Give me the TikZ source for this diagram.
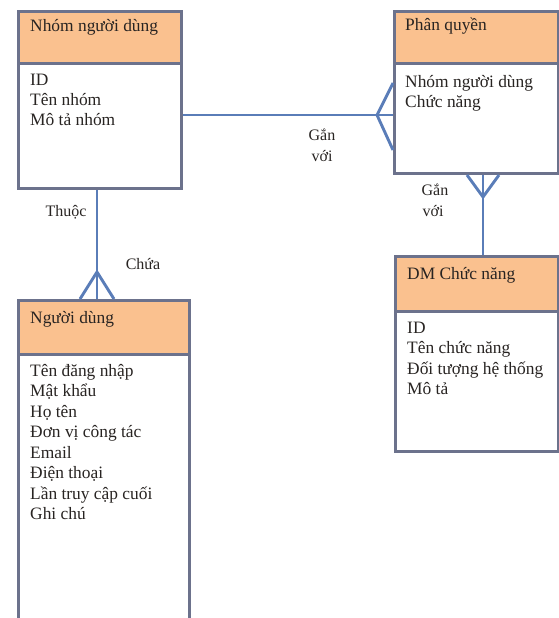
\documentclass[tikz,border=0pt]{standalone}
\usepackage{fontspec}
\setmainfont{Liberation Serif}
\definecolor{hdrfill}{RGB}{250,193,143}
\definecolor{boxline}{RGB}{108,114,140}
\definecolor{linkline}{RGB}{90,125,184}
\definecolor{inkc}{RGB}{40,36,34}
\begin{document}
\begin{tikzpicture}[x=1pt,y=-1pt,
  hdr/.style={draw=boxline, line width=3pt, fill=hdrfill, rectangle, inner sep=0pt, anchor=north west},
  body/.style={draw=boxline, line width=3pt, fill=white, rectangle, inner sep=0pt, anchor=north west},
  txt/.style={anchor=base west, inner sep=0pt, text=inkc, font=\fontsize{17.4}{20.5}\selectfont},
  lbl/.style={anchor=center, inner sep=0pt, text=inkc, font=\fontsize{16}{20}\selectfont},
  link/.style={draw=linkline, line width=2.9pt}]
\useasboundingbox (0,0) rectangle (559,618);
\clip (0,0) rectangle (559,618);

% Nhóm người dùng
\node[body, minimum width=163pt, minimum height=125pt] (g1b) at (17,62) {};
\node[hdr, minimum width=163pt, minimum height=52pt] (g1h) at (17,10) {};
\node[txt] (g1t) at (30,32) {Nhóm người dùng};
\node[txt] (g1a) at (30,85) {ID};
\node[txt] (g1c) at (30,105) {Tên nhóm};
\node[txt] (g1d) at (30,125) {Mô tả nhóm};

% Phân quyền
\node[body, minimum width=164pt, minimum height=110pt] (g2b) at (393,62) {};
\node[hdr, minimum width=164pt, minimum height=52pt] (g2h) at (393,10) {};
\node[txt] (g2t) at (405,31) {Phân quyền};
\node[txt] (g2a) at (405,87) {Nhóm người dùng};
\node[txt] (g2c) at (405,107) {Chức năng};

% DM Chức năng
\node[body, minimum width=163pt, minimum height=140pt] (g3b) at (394,310) {};
\node[hdr, minimum width=163pt, minimum height=55pt] (g3h) at (394,255) {};
\node[txt] (g3t) at (407,279) {DM Chức năng};
\node[txt] (g3a) at (407,333) {ID};
\node[txt] (g3c) at (407,353.5) {Tên chức năng};
\node[txt] (g3d) at (407,374) {Đối tượng hệ thống};
\node[txt] (g3e) at (407,394.5) {Mô tả};

% Người dùng (runs past the lower edge)
\node[body, minimum width=171pt, minimum height=280pt] (g4b) at (17,353) {};
\node[hdr, minimum width=171pt, minimum height=54pt] (g4h) at (17,299) {};
\node[txt] (g4t) at (30,323) {Người dùng};
\node[txt] (g4a) at (30,376) {Tên đăng nhập};
\node[txt] (g4c) at (30,396.5) {Mật khẩu};
\node[txt] (g4d) at (30,417) {Họ tên};
\node[txt] (g4e) at (30,437.5) {Đơn vị công tác};
\node[txt] (g4f) at (30,458) {Email};
\node[txt] (g4g) at (30,478.5) {Điện thoại};
\node[txt] (g4i) at (30,499) {Lần truy cập cuối};
\node[txt] (g4j) at (30,519.5) {Ghi chú};

% crow's-foot fork points
\coordinate (f1) at (377,115);
\coordinate (f2) at (483,197);
\coordinate (f3) at (97,272);

% Nhóm người dùng -- Phân quyền
\draw[link] (g1b.east |- f1) -- (f1) -- (g2b.west |- f1);
\draw[link] (f1) -- (g2b.west |- 0,83);
\draw[link] (f1) -- (g2b.west |- 0,150);

% Phân quyền -- DM Chức năng
\draw[link] (g2b.south -| f2) -- (g3h.north -| f2);
\draw[link] (f2) -- (g2b.south -| 467,0);
\draw[link] (f2) -- (g2b.south -| 499,0);

% Nhóm người dùng -- Người dùng
\draw[link] (g1b.south -| f3) -- (g4h.north -| f3);
\draw[link] (f3) -- (g4h.north -| 80,0);
\draw[link] (f3) -- (g4h.north -| 114,0);

% relation labels
\node[lbl] (l1a) at (322,135) {Gắn};
\node[lbl] (l1b) at (322,156) {với};
\node[lbl] (l2a) at (435,190) {Gắn};
\node[lbl] (l2b) at (433,211) {với};
\node[lbl] (l3) at (66,212) {Thuộc};
\node[lbl] (l4) at (143,264) {Chứa};
\end{tikzpicture}
\end{document}
